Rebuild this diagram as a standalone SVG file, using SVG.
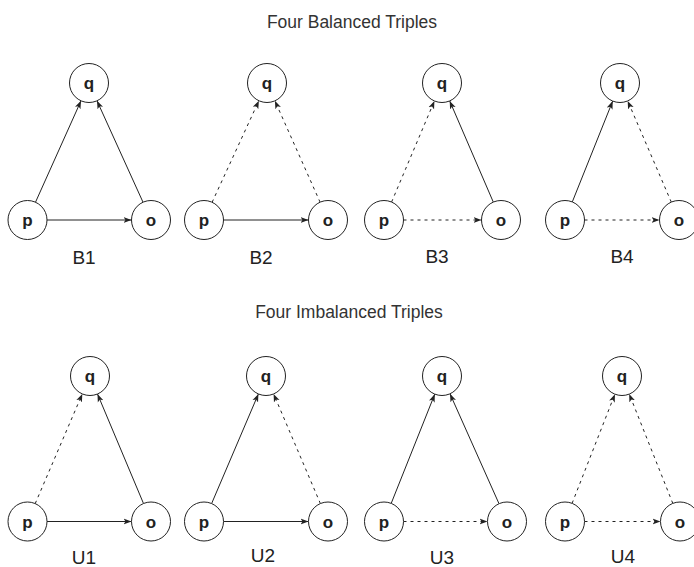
<svg xmlns="http://www.w3.org/2000/svg" width="694" height="567" viewBox="0 0 694 567">
  <style>
    .node circle { fill: #ffffff; stroke: #222222; stroke-width: 1; }
    .node text { font-family: "Liberation Sans", Arial, sans-serif; font-size: 17px; font-weight: bold; fill: #222222; text-anchor: middle; }
    .label { font-family: "Liberation Sans", Arial, sans-serif; font-size: 19px; fill: #222222; text-anchor: middle; }
    .title { font-family: "Liberation Sans", Arial, sans-serif; font-size: 17.5px; fill: #333333; text-anchor: middle; }
    .edge { fill: none; stroke: #222222; stroke-width: 1; marker-end: url(#arrow); }
    .dash { stroke-dasharray: 3 4; }
  </style>
  <defs>
    <marker id="arrow" markerUnits="userSpaceOnUse" markerWidth="9" markerHeight="7" refX="8" refY="3.5" orient="auto" viewBox="0 0 9 7">
      <path d="M0,0.5 L8,3.5 L0,6.5 L2,3.5 z" fill="#222222" stroke="none"/>
    </marker>
  </defs>

  <rect width="694" height="567" fill="#ffffff"/>

  <!-- headings -->
  <text class="title" x="352" y="27.5">Four Balanced Triples</text>
  <text class="title" x="349" y="318">Four Imbalanced Triples</text>

  <!-- connectors -->
  <g id="connectors">
    <!-- B1 -->
    <line class="edge" x1="35.5" y1="202.2" x2="81.0" y2="100.8"/>
    <line class="edge" x1="143.0" y1="202.2" x2="97.0" y2="100.8"/>
    <line class="edge" x1="47" y1="220" x2="131.5" y2="220"/>
    <!-- B2 -->
    <line class="edge dash" x1="212.1" y1="202.3" x2="258.9" y2="100.7"/>
    <line class="edge dash" x1="320.1" y1="202.2" x2="274.9" y2="100.8"/>
    <line class="edge" x1="223.5" y1="220" x2="308.5" y2="220"/>
    <!-- B3 -->
    <line class="edge dash" x1="391.6" y1="202.0" x2="434.4" y2="101.0"/>
    <line class="edge" x1="493.3" y1="202.1" x2="449.7" y2="100.9"/>
    <line class="edge dash" x1="403.5" y1="220" x2="481.5" y2="220"/>
    <!-- B4 -->
    <line class="edge" x1="572.3" y1="201.9" x2="612.7" y2="101.1"/>
    <line class="edge dash" x1="671.3" y1="202.1" x2="627.7" y2="100.9"/>
    <line class="edge dash" x1="584.5" y1="220" x2="659.5" y2="220"/>
    <!-- U1 -->
    <line class="edge dash" x1="35.2" y1="503.6" x2="82.3" y2="393.9"/>
    <line class="edge" x1="143.5" y1="503.5" x2="97.5" y2="394.0"/>
    <line class="edge" x1="47" y1="521.5" x2="131.5" y2="521.5"/>
    <!-- U2 -->
    <line class="edge" x1="211.6" y1="503.6" x2="258.4" y2="393.9"/>
    <line class="edge dash" x1="320.4" y1="503.6" x2="273.6" y2="393.9"/>
    <line class="edge" x1="223.5" y1="521.5" x2="308.5" y2="521.5"/>
    <!-- U3 -->
    <line class="edge" x1="391.2" y1="503.4" x2="434.8" y2="394.1"/>
    <line class="edge" x1="499.0" y1="503.7" x2="450.0" y2="393.8"/>
    <line class="edge dash" x1="403.5" y1="521.5" x2="487.5" y2="521.5"/>
    <!-- U4 -->
    <line class="edge dash" x1="572.1" y1="503.3" x2="614.9" y2="394.2"/>
    <line class="edge dash" x1="672.8" y1="503.4" x2="629.2" y2="393.9"/>
    <line class="edge dash" x1="584.5" y1="521.5" x2="660.5" y2="521.5"/>
  </g>

  <!-- B1 -->
  <g id="b1-q" class="node"><circle cx="89" cy="83" r="19.5"/><text x="89" y="89">q</text></g>
  <g id="b1-p" class="node"><circle cx="27.5" cy="220" r="19.5"/><text x="27.5" y="226">p</text></g>
  <g id="b1-o" class="node"><circle cx="151" cy="220" r="19.5"/><text x="151" y="226">o</text></g>
  <text class="label" x="84" y="264">B1</text>

  <!-- B2 -->
  <g id="b2-q" class="node"><circle cx="267" cy="83" r="19.5"/><text x="267" y="89">q</text></g>
  <g id="b2-p" class="node"><circle cx="204" cy="220" r="19.5"/><text x="204" y="226">p</text></g>
  <g id="b2-o" class="node"><circle cx="328" cy="220" r="19.5"/><text x="328" y="226">o</text></g>
  <text class="label" x="261" y="264">B2</text>

  <!-- B3 -->
  <g id="b3-q" class="node"><circle cx="442" cy="83" r="19.5"/><text x="442" y="89">q</text></g>
  <g id="b3-p" class="node"><circle cx="384" cy="220" r="19.5"/><text x="384" y="226">p</text></g>
  <g id="b3-o" class="node"><circle cx="501" cy="220" r="19.5"/><text x="501" y="226">o</text></g>
  <text class="label" x="437" y="263">B3</text>

  <!-- B4 -->
  <g id="b4-q" class="node"><circle cx="620" cy="83" r="19.5"/><text x="620" y="89">q</text></g>
  <g id="b4-p" class="node"><circle cx="565" cy="220" r="19.5"/><text x="565" y="226">p</text></g>
  <g id="b4-o" class="node"><circle cx="679" cy="220" r="19.5"/><text x="679" y="226">o</text></g>
  <text class="label" x="622" y="263">B4</text>

  <!-- U1 -->
  <g id="u1-q" class="node"><circle cx="90" cy="376" r="19.5"/><text x="90" y="382">q</text></g>
  <g id="u1-p" class="node"><circle cx="27.5" cy="521.5" r="19.5"/><text x="27.5" y="527.5">p</text></g>
  <g id="u1-o" class="node"><circle cx="151" cy="521.5" r="19.5"/><text x="151" y="527.5">o</text></g>
  <text class="label" x="84" y="564">U1</text>

  <!-- U2 -->
  <g id="u2-q" class="node"><circle cx="266" cy="376" r="19.5"/><text x="266" y="382">q</text></g>
  <g id="u2-p" class="node"><circle cx="204" cy="521.5" r="19.5"/><text x="204" y="527.5">p</text></g>
  <g id="u2-o" class="node"><circle cx="328" cy="521.5" r="19.5"/><text x="328" y="527.5">o</text></g>
  <text class="label" x="263" y="562">U2</text>

  <!-- U3 -->
  <g id="u3-q" class="node"><circle cx="442" cy="376" r="19.5"/><text x="442" y="382">q</text></g>
  <g id="u3-p" class="node"><circle cx="384" cy="521.5" r="19.5"/><text x="384" y="527.5">p</text></g>
  <g id="u3-o" class="node"><circle cx="507" cy="521.5" r="19.5"/><text x="507" y="527.5">o</text></g>
  <text class="label" x="442" y="564">U3</text>

  <!-- U4 -->
  <g id="u4-q" class="node"><circle cx="622" cy="376" r="19.5"/><text x="622" y="382">q</text></g>
  <g id="u4-p" class="node"><circle cx="565" cy="521.5" r="19.5"/><text x="565" y="527.5">p</text></g>
  <g id="u4-o" class="node"><circle cx="680" cy="521.5" r="19.5"/><text x="680" y="527.5">o</text></g>
  <text class="label" x="623" y="563">U4</text>
</svg>
